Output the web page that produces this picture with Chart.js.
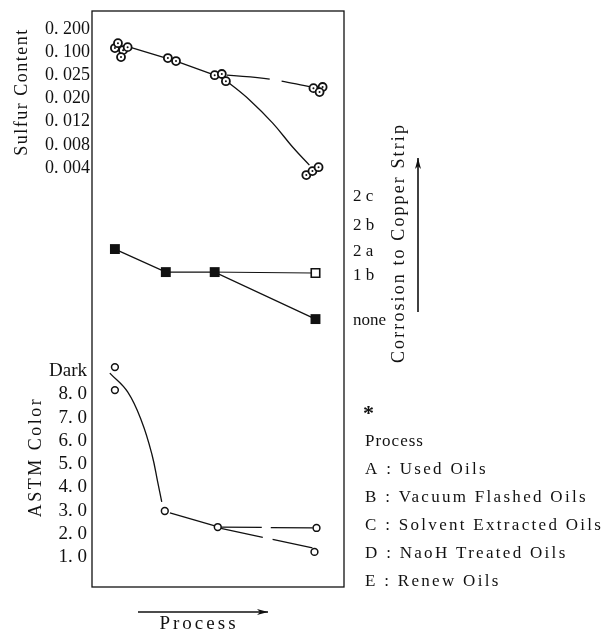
<!DOCTYPE html>
<html>
<head>
<meta charset="utf-8">
<script src="https://cdn.jsdelivr.net/npm/chart.js@4"></script>
<style>
  html, body { margin: 0; padding: 0; background: #fff; }
  #wrap { width: 610px; height: 632px; }
</style>
</head>
<body>
<div id="wrap"><canvas id="chart"></canvas></div>
<script>
// Process axis: A..E, values are positions along it (0 = A ... 4 = E)
const PROCESS_LEGEND = [
    'A : Used Oils',
    'B : Vacuum Flashed Oils',
    'C : Solvent Extracted Oils',
    'D : NaoH Treated Oils',
    'E : Renew Oils'
];

// Sulfur content - the axis is a ladder of labels, so y is a step on it
const SULFUR_TICKS = ['0. 004', '0. 008', '0. 012', '0. 020', '0. 025', '0. 100', '0. 200'];
const sulfurPoints = [
    [0, 5.18], [0.06, 5.39], [0.16, 5.09], [0.12, 4.79], [0.25, 5.22],
    [1.04, 4.75], [1.2, 4.62],
    [1.96, 4.01], [2.1, 4.06], [2.18, 3.75],
    [3.9, 3.45], [4.08, 3.5], [4.02, 3.28],
    [3.76, -0.3], [3.88, -0.13], [4.0, 0.04]
];
const sulfurMain = [[0.29, 5.22], [1.2, 4.62], [1.96, 4.01]];
const sulfurUpper = [[2.2, 4.01], [3.04, 3.84], [3.86, 3.5]];
const sulfurLower = [[2.2, 3.75], [2.65, 2.93], [3.1, 1.94], [3.49, 0.91], [3.82, 0.13]];

// Corrosion to copper strip (1a is not printed, so 1b sits two steps up)
const COPPER_TICKS = ['none', '1 b', '2 a', '2 b', '2 c'];
const COPPER_LEVELS = [0, 1.9, 2.9, 4.0, 5.25];
const copperFilled = [[0, 3.02], [1, 2.04], [1.96, 2.04], [3.94, 0.04]];
const copperOpen = [[3.94, 2.0]];
const copperMain = [[0, 3.02], [1, 2.04], [1.96, 2.04], [3.94, 0.04]];
const copperUpper = [[1.96, 2.04], [3.94, 2.0]];

// ASTM colour
const ASTM_TICKS = ['1. 0', '2. 0', '3. 0', '4. 0', '5. 0', '6. 0', '7. 0', '8. 0', 'Dark'];
const astmPoints = [[0, 9.17], [0, 8.18], [0.98, 2.98], [2.02, 2.29], [3.96, 2.25], [3.92, 1.22]];
const astmCurve = [[-0.1, 8.91], [0.25, 8.1], [0.53, 6.81], [0.73, 5.39], [0.84, 4.23], [0.92, 3.37]];
const astmMain = [[1.08, 2.9], [1.98, 2.33]];
const astmUpper = [[2.06, 2.29], [3.93, 2.25]];
const astmLower = [[2.06, 2.24], [3.88, 1.39]];

const SERIF = '"Liberation Serif", "Times New Roman", serif';
const INK = '#111';

const xy = arr => arr.map(p => ({ x: p[0], y: p[1] }));

function lineSet(data, axis, extra) {
    return Object.assign({
        data: xy(data),
        yAxisID: axis,
        borderColor: INK,
        borderWidth: 1.3,
        pointRadius: 0,
        fill: false,
        order: 2
    }, extra || {});
}

function pointSet(data, axis, extra) {
    return Object.assign({
        data: xy(data),
        yAxisID: axis,
        showLine: false,
        pointStyle: 'circle',
        pointRadius: 4,
        pointBorderWidth: 1.8,
        pointBorderColor: INK,
        pointBackgroundColor: '#fff',
        order: 1
    }, extra || {});
}

// left axes share one stack: sulfur on top (higher weight goes first), ASTM colour below
function tickAxis(position, min, max, values, labels, size, padding, width, weight) {
    return {
        type: 'linear',
        position: position,
        min: min,
        max: max,
        weight: weight || 0,
        stack: position === 'left' ? 'left' : undefined,
        grid: { display: false, tickLength: 0 },
        border: { display: false },
        afterBuildTicks: s => { s.ticks = values.map(v => ({ value: v })); },
        afterFit: s => {
            s.width = width;
            // labels sit well inside the axis, no need to pull the plot in
            s.paddingTop = 0;
            s.paddingBottom = 0;
        },
        ticks: {
            autoSkip: false,
            padding: padding,
            color: INK,
            font: { family: SERIF, size: size },
            callback: (v, i) => labels[i]
        }
    };
}

// box round the plot
const frame = {
    id: 'frame',
    beforeDatasetsDraw(chart) {
        const { ctx, chartArea: a } = chart;
        ctx.save();
        ctx.strokeStyle = INK;
        ctx.lineWidth = 1.3;
        ctx.strokeRect(a.left, a.top, a.right - a.left, a.bottom - a.top);
        ctx.restore();
    }
};

function text(ctx, str, x, y, size, spacing, opts) {
    opts = opts || {};
    ctx.save();
    ctx.translate(x, y);
    if (opts.rotate) ctx.rotate(opts.rotate);
    ctx.font = (opts.bold ? 'bold ' : '') + size + 'px ' + SERIF;
    ctx.letterSpacing = spacing + 'px';
    ctx.fillStyle = INK;
    ctx.textAlign = opts.align || 'left';
    ctx.textBaseline = 'middle';
    ctx.fillText(str, 0, 0);
    ctx.restore();
}

function arrow(ctx, x1, y1, x2, y2) {
    const ang = Math.atan2(y2 - y1, x2 - x1);
    ctx.save();
    ctx.strokeStyle = INK;
    ctx.fillStyle = INK;
    ctx.lineWidth = 1.6;
    ctx.beginPath();
    ctx.moveTo(x1, y1);
    ctx.lineTo(x2, y2);
    ctx.stroke();
    ctx.beginPath();
    ctx.moveTo(x2, y2);
    ctx.lineTo(x2 - 11 * Math.cos(ang) - 3 * Math.sin(ang), y2 - 11 * Math.sin(ang) + 3 * Math.cos(ang));
    ctx.lineTo(x2 - 8 * Math.cos(ang), y2 - 8 * Math.sin(ang));
    ctx.lineTo(x2 - 11 * Math.cos(ang) + 3 * Math.sin(ang), y2 - 11 * Math.sin(ang) - 3 * Math.cos(ang));
    ctx.closePath();
    ctx.fill();
    ctx.restore();
}

// axis titles, arrows and the process key
const notes = {
    id: 'notes',
    afterDraw(chart) {
        const ctx = chart.ctx;
        const up = -Math.PI / 2;
        text(ctx, 'Sulfur Content', 22, 92, 18, 1.5, { rotate: up, align: 'center' });
        text(ctx, 'ASTM Color', 36, 457, 18, 2.5, { rotate: up, align: 'center' });
        text(ctx, 'Corrosion to Copper Strip', 399, 243, 18, 2.1, { rotate: up, align: 'center' });
        arrow(ctx, 418, 312, 418, 158);
        arrow(ctx, 138, 612, 268, 612);
        text(ctx, 'Process', 199, 624, 19, 3, { align: 'center' });

        text(ctx, '*', 363, 414, 22, 0, { bold: true });
        text(ctx, 'Process', 365, 442, 17, 1);
        PROCESS_LEGEND.forEach((s, i) => {
            text(ctx, s, 365, 470 + i * 28, 17, 2.3);
        });
    }
};

new Chart(document.getElementById('chart'), {
    type: 'line',
    data: {
        datasets: [
            // marks
            pointSet(sulfurPoints, 'ySul'),
            pointSet(sulfurPoints, 'ySul', { pointRadius: 1, pointBorderWidth: 0, pointBackgroundColor: INK, order: 0 }),
            pointSet(copperFilled, 'yCu', { pointStyle: 'rect', pointRadius: 7, pointBorderWidth: 0, pointBackgroundColor: INK }),
            pointSet(copperOpen, 'yCu', { pointStyle: 'rect', pointRadius: 6, pointBorderWidth: 1.6 }),
            pointSet(astmPoints, 'yAstm', { pointRadius: 3.4, pointBorderWidth: 1.5 }),
            // lines
            lineSet(sulfurMain, 'ySul'),
            lineSet(sulfurUpper, 'ySul', { tension: 0.4, borderDash: [43, 12] }),
            lineSet(sulfurLower, 'ySul', { tension: 0.4 }),
            lineSet(copperMain, 'yCu'),
            lineSet(copperUpper, 'yCu', { borderWidth: 1 }),
            lineSet(astmCurve, 'yAstm', { tension: 0.4 }),
            lineSet(astmMain, 'yAstm'),
            lineSet(astmUpper, 'yAstm', { borderDash: [42, 9] }),
            lineSet(astmLower, 'yAstm', { borderDash: [44, 10] })
        ]
    },
    options: {
        responsive: true,
        maintainAspectRatio: false,
        animation: false,
        layout: { padding: { left: 0, right: 0, top: 11, bottom: 45 } },
        plugins: { legend: { display: false }, tooltip: { enabled: false } },
        scales: {
            x: { type: 'linear', min: -0.45, max: 4.5, display: false },
            // each left axis gets half of the plot height (11-299 and 299-587)
            ySul: tickAxis('left', -5.65, 6.78, SULFUR_TICKS.map((t, i) => i), SULFUR_TICKS, 18, 2, 92, 1),
            yAstm: tickAxis('left', -0.29, 12.1, ASTM_TICKS.map((t, i) => i + 1), ASTM_TICKS, 19, 5, 92, 0),
            yCu: tickAxis('right', -11.36, 13.15, COPPER_LEVELS, COPPER_TICKS, 17, 9, 266)
        }
    },
    plugins: [frame, notes]
});
</script>
</body>
</html>
